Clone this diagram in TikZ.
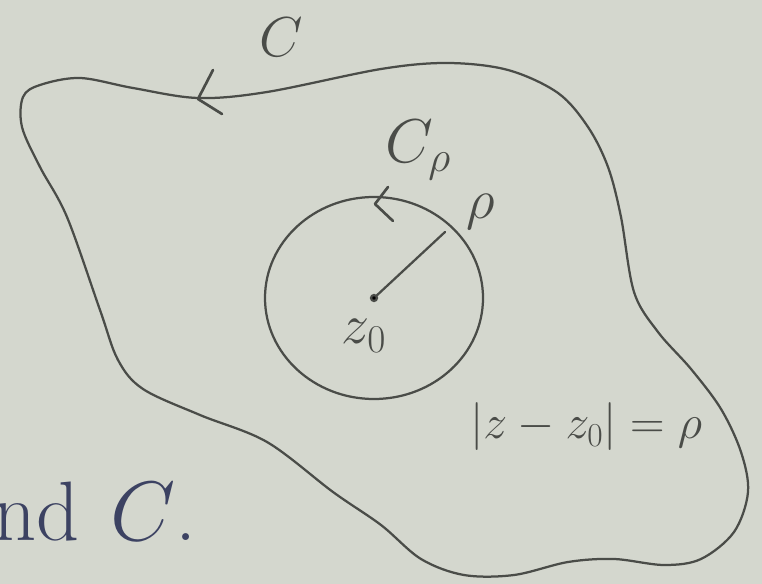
\RequirePackage{fix-cm}
\documentclass[tikz,border=0pt]{standalone}
\definecolor{paper}{HTML}{D4D7CE}
\definecolor{pencil}{HTML}{4A4C48}
\definecolor{inkblue}{HTML}{3C4262}
\tikzset{
  pencil/.style={draw=pencil, line width=1.6pt, line cap=round, line join=round},
  tick/.style={pencil, line width=1.9pt},
  lbl/.style={text=pencil, inner sep=0pt, font=\fontsize{40}{44}\selectfont},
  small/.style={lbl, font=\fontsize{34}{38}\selectfont},
  page/.style={text=inkblue, inner sep=0pt, font=\fontsize{60}{64}\selectfont}
}
\begin{document}
\begin{tikzpicture}[x=0.025cm, y=-0.025cm]

\fill[paper] (0,0) rectangle (762,584);
\useasboundingbox (0,0) rectangle (762,584);
\clip (0,0) rectangle (762,584);

% outer contour C
\draw[pencil] plot[smooth cycle, tension=0.55] coordinates {
  (23,97) (40,85) (80,78) (133,88) (198,98) (267,92) (381,69) (448,63)
  (508,70) (558,93) (588,127) (608,167) (621,217) (634,292) (658,332)
  (691,369) (721,409) (741,452) (748,492) (734,532) (701,559) (664,565)
  (614,559) (568,562) (514,575) (464,575) (421,559) (381,525) (333,492)
  (267,442) (200,415) (143,389) (118,360) (100,310) (67,217) (40,167) (22,127)};
\coordinate (ctip) at (198,99);
\draw[tick] (213,70) -- (ctip) -- (222,114);
\node[lbl] (clabel) at (281,37) {$C$};

% circle C_rho round z_0
\coordinate (z0) at (374,298);
\draw[pencil] (z0) circle[x radius=109, y radius=101];
\coordinate (rtip) at (445,232);
\draw[pencil] (z0) -- (rtip);
\fill[pencil] (z0) circle[radius=3];
\coordinate (cptip) at (375,204);
\draw[tick] (388,187) -- (cptip) -- (393,221);
\node[lbl, font=\fontsize{44}{48}\selectfont] (cplabel) at (418,150) {$C_\rho$};
\node[lbl] (rholabel) at (481,212) {$\rho$};
\node[lbl] (zlabel) at (364,336) {$z_0$};
\node[small] (eqlabel) at (586,427) {$|z-z_0|=\rho$};

% page text cut at the left edge
\node[page, anchor=base east] (pagetext) at (80,540) {and};
\node[page, anchor=base west] (pagec) at (110,540) {$C$.};

\end{tikzpicture}
\end{document}
